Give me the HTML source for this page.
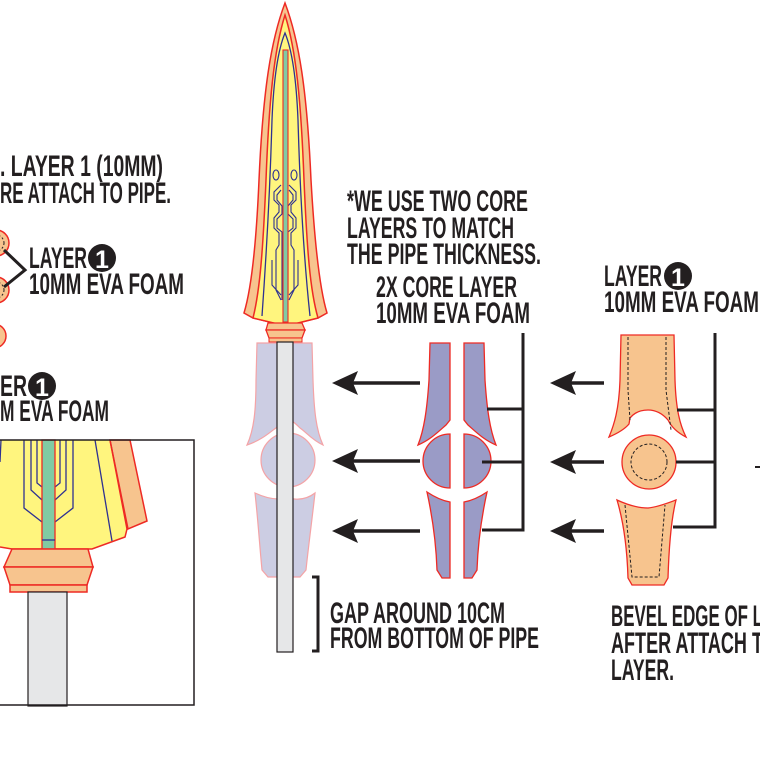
<!DOCTYPE html>
<html><head><meta charset="utf-8"><style>
html,body{margin:0;padding:0;background:#fff;}
svg{display:block;}
text{font-family:"Liberation Sans Narrow","Liberation Sans",sans-serif;font-weight:bold;fill:#231f20;font-size:30px;}
</style></head><body>
<svg width="760" height="760" viewBox="0 0 760 760" xmlns="http://www.w3.org/2000/svg">

<!-- ===== LEFT PANEL ===== -->
<g stroke="#ee2a24" stroke-width="1.5" fill="#f7c48e">
<circle cx="-4" cy="243" r="13"/><circle cx="-4" cy="290" r="13"/><circle cx="-6" cy="336" r="12"/>
</g>
<g stroke="#231f20" stroke-width="1" stroke-dasharray="2,2" fill="none">
<circle cx="-4" cy="243" r="8"/><circle cx="-4" cy="290" r="8"/>
</g>
<polyline points="4,250 25,270 4,287" fill="none" stroke="#231f20" stroke-width="3"/>

<text x="0" y="176" textLength="163" lengthAdjust="spacingAndGlyphs">. LAYER 1 (10MM)</text>
<text x="0" y="203" textLength="171" lengthAdjust="spacingAndGlyphs">RE ATTACH TO PIPE.</text>
<text x="29" y="268" textLength="58" lengthAdjust="spacingAndGlyphs">LAYER</text>
<circle cx="102" cy="258" r="14" fill="#231f20"/><text x="102" y="268" text-anchor="middle" style="fill:#fff;font-size:25px">1</text>
<text x="29" y="294" textLength="155" lengthAdjust="spacingAndGlyphs">10MM EVA FOAM</text>
<text x="0" y="396" textLength="27" lengthAdjust="spacingAndGlyphs">ER</text>
<circle cx="42" cy="386" r="14" fill="#231f20"/><text x="42" y="396" text-anchor="middle" style="fill:#fff;font-size:25px">1</text>
<text x="0" y="421" textLength="109" lengthAdjust="spacingAndGlyphs">M EVA FOAM</text>

<polygon points="0,440 110,440 127,529 125,537 92,549 12,549 0,547" fill="#fff57e"/>
<polygon points="110,440 130,440 147,521 128,529" fill="#f7c48e" stroke="#ee2a24" stroke-width="1.5"/>
<polyline points="110,440 127,529 125,537 92,549 12,549 0,547" fill="none" stroke="#ee2a24" stroke-width="1.5"/>
<g fill="none" stroke="#2e3192" stroke-width="1.3">
<polyline points="24,440 24,508 42,522"/><polyline points="31,440 31,490 42,500"/><polyline points="37,440 37,483 42,487"/>
<polyline points="73,440 73,508 55,522"/><polyline points="66,440 66,490 55,500"/><polyline points="60,440 60,483 55,487"/>
<line x1="95" y1="440" x2="112" y2="541"/><line x1="1" y1="440" x2="0" y2="462"/>
</g>
<rect x="42" y="440" width="13" height="109" fill="#80cba3" stroke="#ee2a24" stroke-width="1.3"/>
<line x1="42" y1="540" x2="55" y2="540" stroke="#2e3192" stroke-width="1.3"/>
<polygon points="12,549 88,549 93,567 4,567" fill="#f7c48e" stroke="#ee2a24" stroke-width="1.5"/>
<polygon points="4,567 93,567 87,585 10,585" fill="#f7c48e" stroke="#ee2a24" stroke-width="1.5"/>
<rect x="10" y="585" width="77" height="7" fill="#f7c48e" stroke="#ee2a24" stroke-width="1.5"/>
<rect x="28" y="592" width="39" height="114" fill="#e6e7e8" stroke="#231f20" stroke-width="1.2"/>
<polyline points="0,440 194,440 194,705 0,705" fill="none" stroke="#231f20" stroke-width="1.5"/>

<!-- ===== SWORD ===== -->
<path d="M285,3 C299,40 307,90 311,180 C315,250 320,290 327,313 L318,318 L290,325 L282,325 L253,318 L244,313 C251,290 256,250 259,180 C263,90 271,40 285,3 Z" fill="#f7c48e" stroke="#ee2a24" stroke-width="1.5"/>
<path d="M285,15 C296,50 301,100 304,180 C307,250 310,290 318,318 L290,325 L282,325 L253,318 C260,290 263,250 266,180 C269,100 274,50 285,15 Z" fill="#fff57e" stroke="#ee2a24" stroke-width="1.5"/>
<path d="M262,316 C266,260 270,190 272,120 C274,70 280,45 285,33 C290,45 296,70 298,120 C300,190 304,260 310,316" fill="none" stroke="#2e3192" stroke-width="1.3"/>
<g fill="none" stroke="#2e3192" stroke-width="1.1">
<ellipse cx="276" cy="175" rx="3" ry="5"/><ellipse cx="294" cy="175" rx="3" ry="5"/>
<polyline points="281,185 274,192 274,200 279,205 279,212 274,218 274,228 279,233 279,245 276,250 276,290 281,300"/>
<polyline points="281,190 277,195 277,200 282,206 282,214 277,219 277,228 282,232 282,300"/>
<polyline points="289,185 296,192 296,200 291,205 291,212 296,218 296,228 291,233 291,245 294,250 294,290 289,300"/>
<polyline points="289,190 293,195 293,200 288,206 288,214 293,219 293,228 288,232 288,300"/>
<polyline points="272,260 272,285 281,295"/><polyline points="298,260 298,285 289,295"/>
</g>
<rect x="283" y="50" width="5" height="272" fill="#80cba3" stroke="#ee2a24" stroke-width="1.1"/>
<polygon points="268,323 302,323 305,330 266,330" fill="#f7c48e" stroke="#ee2a24" stroke-width="1.3"/>
<polygon points="266,330 305,330 302,338 269,338" fill="#f7c48e" stroke="#ee2a24" stroke-width="1.3"/>
<rect x="269" y="338" width="33" height="4" fill="#f7c48e" stroke="#ee2a24" stroke-width="1"/>

<g fill="#cccde3" stroke="#f4a3a6" stroke-width="1.2">
<path d="M257,343 L312,343 L313,380 C314,410 316,430 323,445 C312,440 306,432 300,428 C296,424 292,420 288,420 C284,420 280,424 276,428 C270,432 262,440 247,445 C254,430 256,410 256,380 Z"/>
<circle cx="288" cy="460" r="27"/>
<path d="M255,493 C270,500 280,500 288,498 C296,500 306,500 315,493 C312,520 308,550 306,570 L300,577 L268,577 L262,570 C260,550 258,520 255,493 Z"/>
</g>
<rect x="277" y="342" width="16" height="310" fill="#e6e7e8" stroke="#231f20" stroke-width="1.2"/>
<polyline points="312,577 318,577 318,651 312,651" fill="none" stroke="#231f20" stroke-width="3"/>
<text x="330" y="623" textLength="175" lengthAdjust="spacingAndGlyphs">GAP AROUND 10CM</text>
<text x="330" y="648" textLength="209" lengthAdjust="spacingAndGlyphs">FROM BOTTOM OF PIPE</text>

<g stroke="#231f20" stroke-width="3.5">
<line x1="352" y1="383" x2="420" y2="383"/><line x1="352" y1="461" x2="420" y2="461"/><line x1="352" y1="531" x2="420" y2="531"/>
<line x1="570" y1="383" x2="604" y2="383"/><line x1="570" y1="462" x2="604" y2="462"/><line x1="570" y1="531" x2="604" y2="531"/>
</g>
<g fill="#231f20">
<polygon points="332,383 358,371 353,383 358,395"/><polygon points="332,461 358,449 353,461 358,473"/><polygon points="332,531 358,519 353,531 358,543"/>
<polygon points="550,383 576,371 571,383 576,395"/><polygon points="550,462 576,450 571,462 576,474"/><polygon points="550,531 576,519 571,531 576,543"/>
</g>

<g fill="#9a9bc6" stroke="#ee2a24" stroke-width="1.3">
<path d="M430,343 L450,343 L450,420 L446,425 C438,432 430,440 418,445 C424,430 427,410 429,380 Z"/>
<path d="M464,343 L484,343 L485,380 C487,410 490,430 496,445 C484,440 476,432 468,425 L464,420 Z"/>
<path d="M450,434 A27,27 0 0 0 450,488 Z"/>
<path d="M464,434 A27,27 0 0 1 464,488 Z"/>
<path d="M427,492 C436,498 444,501 450,502 L450,578 L442,578 L437,570 C436,540 432,515 427,492 Z"/>
<path d="M487,492 C478,498 470,501 464,502 L464,578 L472,578 L477,570 C478,540 482,515 487,492 Z"/>
</g>
<polyline points="523,333 523,530 482,530" fill="none" stroke="#231f20" stroke-width="3"/>
<line x1="487" y1="409" x2="523" y2="409" stroke="#231f20" stroke-width="3"/>
<line x1="482" y1="462" x2="523" y2="462" stroke="#231f20" stroke-width="3"/>

<text x="347" y="211" textLength="181" lengthAdjust="spacingAndGlyphs">*WE USE TWO CORE</text>
<text x="347" y="238" textLength="167" lengthAdjust="spacingAndGlyphs">LAYERS TO MATCH</text>
<text x="347" y="264" textLength="194" lengthAdjust="spacingAndGlyphs">THE PIPE THICKNESS.</text>
<text x="376" y="297" textLength="141" lengthAdjust="spacingAndGlyphs">2X CORE LAYER</text>
<text x="376" y="323" textLength="154" lengthAdjust="spacingAndGlyphs">10MM EVA FOAM</text>

<g fill="#f7c48e" stroke="#ee2a24" stroke-width="1.3">
<path d="M621,335 L674,335 L675,380 C676,410 680,425 686,437 C678,433 672,428 668,420 C662,413 655,410 648,410 C640,410 634,413 630,418 L629,424 C624,430 616,434 609,437 C614,425 619,410 620,380 Z"/>
<circle cx="649" cy="462" r="27"/>
<path d="M617,500 C630,506 640,508 648,508 C658,507 668,503 676,500 C671,520 669,545 668,578 L664,585 L632,585 L628,578 C627,545 623,520 617,500 Z"/>
</g>
<g fill="none" stroke="#231f20" stroke-width="1" stroke-dasharray="3,2">
<polyline points="628,337 628,390 630,420"/><polyline points="666,337 666,390 671,430"/>
<circle cx="649" cy="462" r="18"/>
<polyline points="625,505 632,577 659,577 665,505"/>
</g>
<polyline points="715,333 715,527 673,527" fill="none" stroke="#231f20" stroke-width="3"/>
<line x1="677" y1="410" x2="715" y2="410" stroke="#231f20" stroke-width="3"/>
<line x1="676" y1="462" x2="715" y2="462" stroke="#231f20" stroke-width="3"/>
<line x1="755" y1="467" x2="760" y2="467" stroke="#231f20" stroke-width="2"/>

<text x="604" y="286" textLength="58" lengthAdjust="spacingAndGlyphs">LAYER</text>
<circle cx="678" cy="276" r="14" fill="#231f20"/><text x="678" y="286" text-anchor="middle" style="fill:#fff;font-size:25px">1</text>
<text x="604" y="312" textLength="155" lengthAdjust="spacingAndGlyphs">10MM EVA FOAM</text>
<text x="611" y="626" textLength="152" lengthAdjust="spacingAndGlyphs">BEVEL EDGE OF L</text>
<text x="611" y="653" textLength="152" lengthAdjust="spacingAndGlyphs">AFTER ATTACH T</text>
<text x="611" y="680" textLength="63" lengthAdjust="spacingAndGlyphs">LAYER.</text>
</svg>
</body></html>
